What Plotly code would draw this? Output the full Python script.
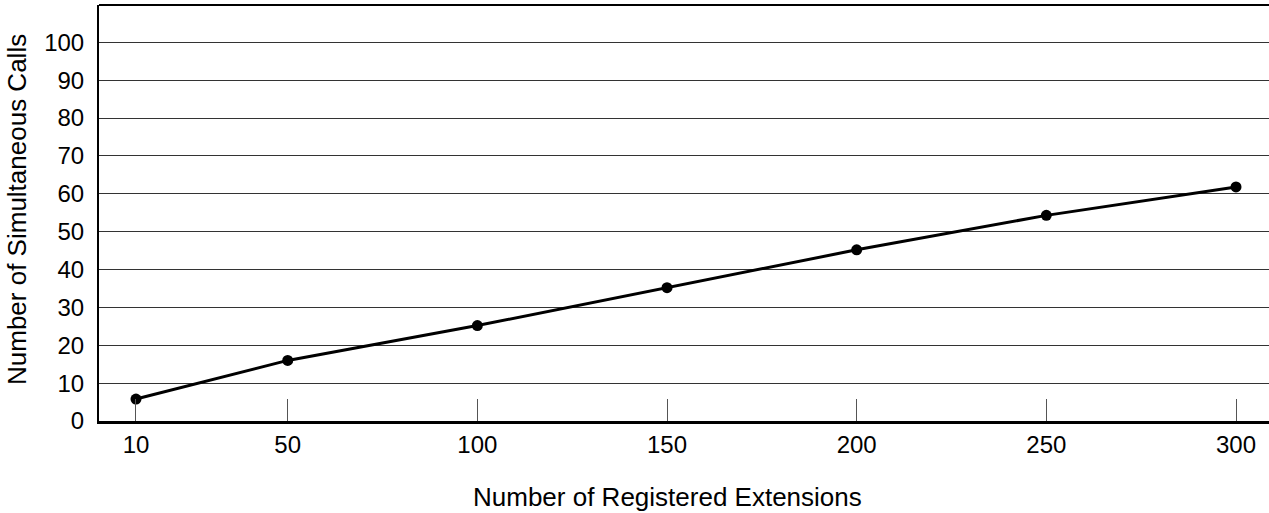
import plotly.graph_objects as go

extensions = [10, 50, 100, 150, 200, 250, 300]
calls = [5.8, 16.0, 25.2, 35.2, 45.2, 54.3, 61.8]
y_ticks = [0, 10, 20, 30, 40, 50, 60, 70, 80, 90, 100]

font = "Liberation Sans, Arial, sans-serif"

fig = go.Figure()
fig.add_trace(
    go.Scatter(
        x=extensions,
        y=calls,
        mode="lines+markers",
        line=dict(color="black", width=3),
        marker=dict(color="black", size=11),
        showlegend=False,
    )
)

fig.update_xaxes(
    range=[0.25, 308.7],
    tickvals=extensions,
    ticks="inside",
    ticklen=22,
    tickcolor="#555555",
    tickwidth=1,
    showgrid=False,
    zeroline=False,
    showline=True,
    linecolor="black",
    linewidth=2.5,
    mirror=False,
    tickfont=dict(family=font, size=24, color="black"),
)
fig.update_yaxes(
    range=[0, 109.85],
    tickvals=y_ticks,
    ticks="",
    showgrid=True,
    gridcolor="#333333",
    gridwidth=1,
    zeroline=False,
    showline=True,
    linecolor="black",
    linewidth=2,
    ticklabelstandoff=8,
    tickfont=dict(family=font, size=24, color="black"),
)

fig.update_layout(
    width=1269,
    height=513,
    margin=dict(l=99, r=0, t=5, b=92),
    plot_bgcolor="white",
    paper_bgcolor="white",
    shapes=[
        dict(type="line", xref="paper", yref="paper", x0=0, x1=1, y0=1, y1=1,
             line=dict(color="black", width=2)),
    ],
    annotations=[
        dict(text="Number of Registered Extensions", xref="paper", yref="paper",
             x=(667 - 99) / 1170, y=-(497 - 421) / 416, xanchor="center", yanchor="middle",
             showarrow=False, font=dict(family=font, size=26, color="black")),
        dict(text="Number of Simultaneous Calls", xref="paper", yref="paper",
             x=(17 - 99) / 1170, y=(421 - 210) / 416, xanchor="center", yanchor="middle",
             textangle=-90, showarrow=False,
             font=dict(family=font, size=26, color="black")),
    ],
)

fig.write_html(
    "out.html",
    config={"displayModeBar": False},
    post_script="document.body.style.margin='0';",
)
